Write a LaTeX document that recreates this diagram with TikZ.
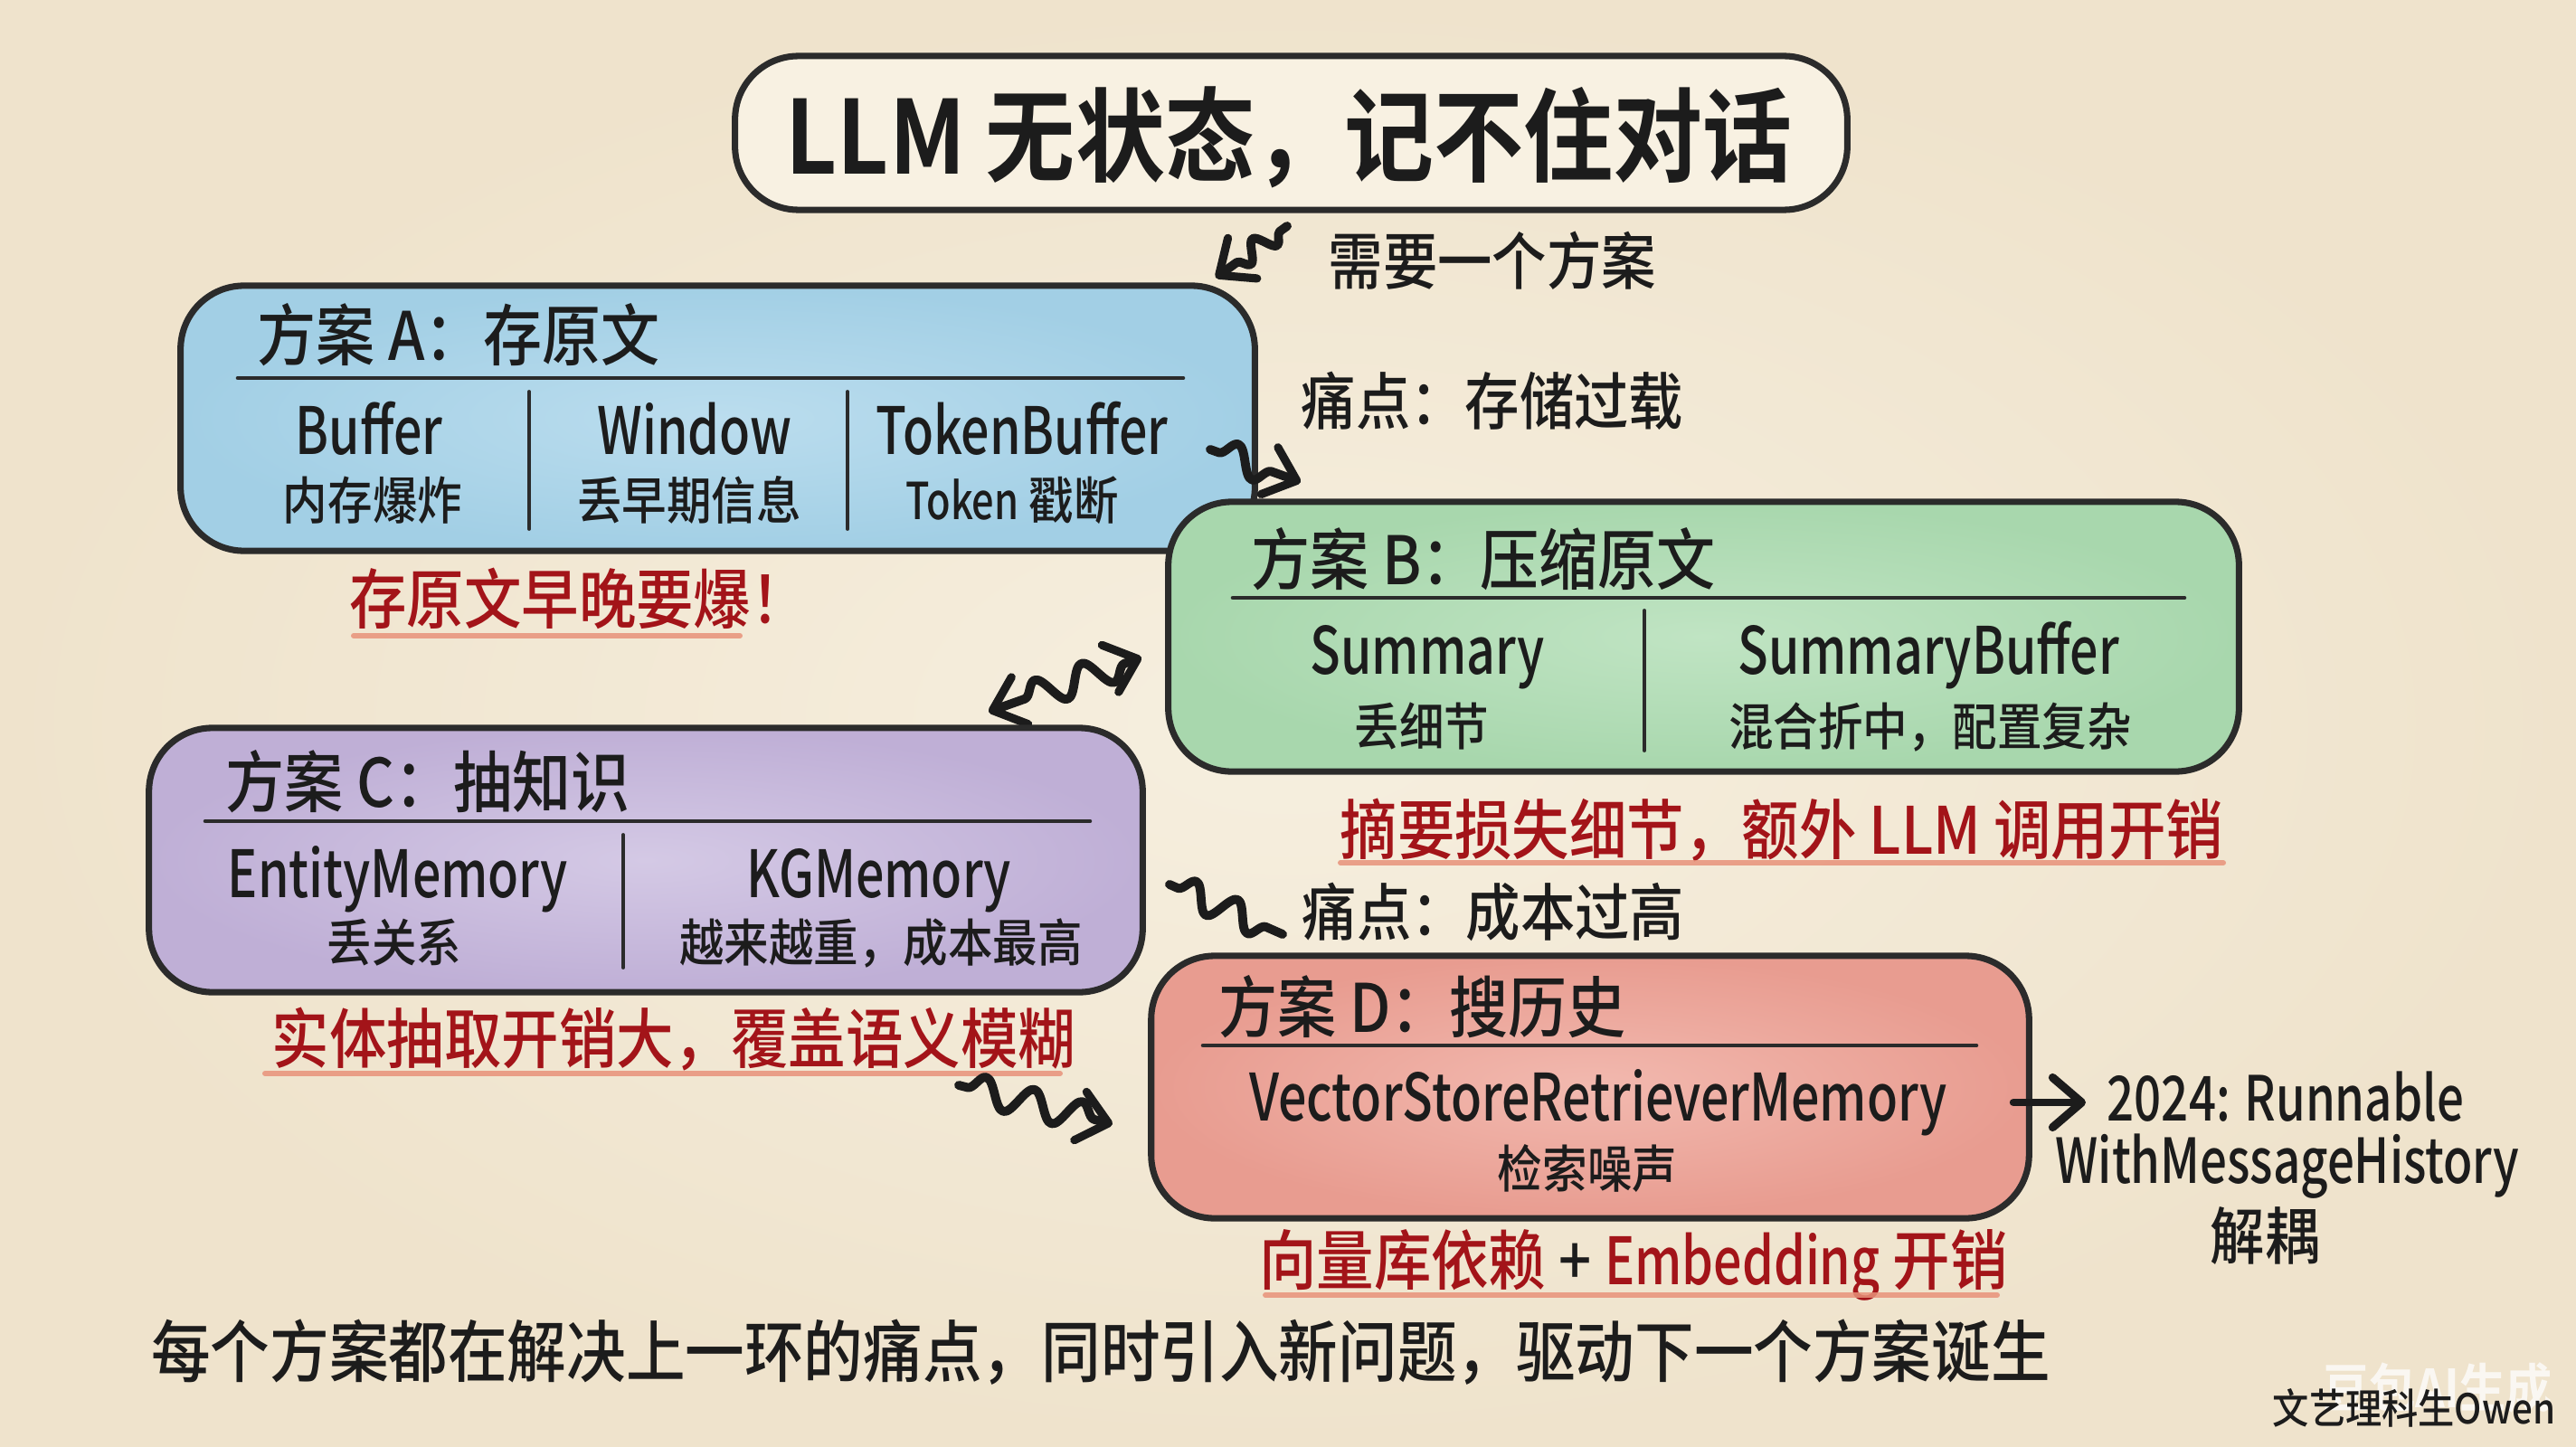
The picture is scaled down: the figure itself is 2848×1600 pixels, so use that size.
\documentclass[tikz,border=0pt]{standalone}
\usepackage{fontspec}
\setmainfont{Noto Sans CJK SC}[UprightFont=* Medium, BoldFont=* Bold, FakeStretch=0.88]
\newfontfamily\latinfont{Noto Sans CJK SC}[UprightFont=* Medium, BoldFont=* Bold, FakeStretch=0.77]
\usetikzlibrary{arrows.meta,decorations.pathmorphing,calc}
\definecolor{bglight}{HTML}{F6EFDF}
\definecolor{bgdark}{HTML}{EFE3CC}
\definecolor{ink}{HTML}{1C1C1C}
\definecolor{outline}{HTML}{2B2B2B}
\definecolor{titlefill}{HTML}{F8F1E2}
\definecolor{blueout}{HTML}{A2CFE5}
\definecolor{bluein}{HTML}{BBDDEE}
\definecolor{greenout}{HTML}{A8D7AD}
\definecolor{greenin}{HTML}{C0E4C3}
\definecolor{purpleout}{HTML}{BFAFD6}
\definecolor{purplein}{HTML}{D4C9E5}
\definecolor{redout}{HTML}{E89C90}
\definecolor{redin}{HTML}{F2B9AF}
\definecolor{notered}{HTML}{A31419}
\definecolor{ulc}{HTML}{E8927A}
\tikzset{
  txt/.style={inner sep=0pt, text=ink},
  boxbase/.style={draw=outline, line width=2pt, rounded corners=0.7cm, inner sep=0pt},
  titletxt/.style={txt, font=\fontsize{32}{38}\selectfont\bfseries, text height=28.2pt, text depth=3.8pt},
  headtxt/.style={txt, anchor=west, font=\fontsize{21}{25}\selectfont, text height=18.5pt, text depth=2.5pt},
  labtxt/.style={txt, font=\fontsize{20.5}{24}\selectfont\latinfont, text height=18pt, text depth=2.5pt},
  subtxt/.style={txt, font=\fontsize{16}{19}\selectfont, text height=14.1pt, text depth=1.9pt},
  notetxt/.style={txt, text=notered, font=\fontsize{20.5}{24}\selectfont, text height=18pt, text depth=2.5pt},
  sidetxt/.style={txt, font=\fontsize{19.5}{23}\selectfont, text height=17.2pt, text depth=2.3pt},
  sidelatin/.style={sidetxt, font=\fontsize{19.5}{23}\selectfont\latinfont},
  bottomtxt/.style={txt, font=\fontsize{21.2}{25}\selectfont, text height=18.7pt, text depth=2.5pt},
  rulestroke/.style={draw=outline, line width=1.3pt, line cap=round},
  divider/.style={draw=outline, line width=1.1pt, line cap=round},
  uline/.style={draw=ulc, line width=1.7pt, line cap=round, opacity=.85},
  barb/.tip={Straight Barb[length=3.2mm,width=5.5mm,line width=2.6pt,round]},
  squig/.style={draw=ink, line width=2.8pt, line cap=round, line join=round,
    decorate, decoration={snake, amplitude=1.4mm, segment length=4.5mm, pre length=1mm, post length=2mm}},
  arrowline/.style={draw=ink, line width=2.4pt, line cap=round},
}
\begin{document}
\begin{tikzpicture}[x=0.01cm, y=-0.01cm]
\useasboundingbox (0,0) rectangle (2848,1600);
\shade[inner color=bglight, outer color=bgdark] (0,0) rectangle (2848,1600);

% title
\node[boxbase, fill=titlefill, minimum width=12.29cm, minimum height=1.70cm] (titlebox) at (1427.5,147) {};
\node[titletxt] (titletext) at (1425,150) {LLM 无状态，记不住对话};

\coordinate (s1a) at (1423,250);
\coordinate (s1b) at (1344,307);
\draw[squig, decoration={amplitude=1.1mm, segment length=3.6mm}, -barb] (s1a) -- (s1b);
\node[sidetxt, anchor=west] (need) at (1468,288) {需要一个方案};

% box A
\node[boxbase, inner color=bluein, outer color=blueout, minimum width=11.87cm, minimum height=2.93cm] (boxA) at (793.5,462.5) {};
\node[headtxt] (headA) at (284,370) {方案 A：存原文};
\draw[rulestroke] (263,418) -- (1308,418);
\draw[divider] (585,433) -- (585,585);
\draw[divider] (937,433) -- (937,585);
\node[labtxt] (bufA) at (408,475) {Buffer};
\node[subtxt] (bufAs) at (412,553) {内存爆炸};
\node[labtxt] (winA) at (768,475) {Window};
\node[subtxt] (winAs) at (762,553) {丢早期信息};
\node[labtxt] (tokA) at (1130,475) {TokenBuffer};
\node[subtxt] (tokAs) at (1119,553) {{\latinfont Token} 戳断};
\node[notetxt] (noteA) at (640,662) {存原文早晚要爆！};
\draw[uline] (391,703) -- (818,703);

\node[sidetxt, anchor=west] (painA) at (1438,443) {痛点：存储过载};
\coordinate (sAa) at (1338,497);
\coordinate (sAb) at (1438,533);
\draw[squig, decoration={amplitude=1.6mm, segment length=5.5mm}, -barb] (sAa) -- (sAb);

% box B
\node[boxbase, inner color=greenin, outer color=greenout, minimum width=11.83cm, minimum height=2.98cm] (boxB) at (1883.5,704) {};
\node[headtxt] (headB) at (1383,618) {方案 B：压缩原文};
\draw[rulestroke] (1363,661) -- (2415,661);
\draw[divider] (1818,675) -- (1818,830);
\node[labtxt] (sumB) at (1578,718) {Summary};
\node[subtxt] (sumBs) at (1572,803) {丢细节};
\node[labtxt] (sbufB) at (2132,718) {SummaryBuffer};
\node[subtxt] (sbufBs) at (2134,803) {混合折中，配置复杂};
\node[notetxt] (noteB) at (1970,917) {摘要损失细节，额外 LLM 调用开销};
\draw[uline] (1482,954) -- (2458,954);

\coordinate (sBCa) at (1262,727);
\coordinate (sBCb) at (1093,787);
\draw[squig, decoration={amplitude=1.6mm, segment length=5.5mm, pre length=2mm}, barb-barb] (sBCa) -- (sBCb);

% box C
\node[boxbase, inner color=purplein, outer color=purpleout, minimum width=10.98cm, minimum height=2.92cm] (boxC) at (714,951) {};
\node[headtxt] (headC) at (249,864) {方案 C：抽知识};
\draw[rulestroke] (227,908) -- (1205,908);
\draw[divider] (689,923) -- (689,1070);
\node[labtxt] (entC) at (440,965) {EntityMemory};
\node[subtxt] (entCs) at (436,1042) {丢关系};
\node[labtxt] (kgC) at (972,965) {KGMemory};
\node[subtxt] (kgCs) at (974,1042) {越来越重，成本最高};
\node[notetxt] (noteC) at (745,1148) {实体抽取开销大，覆盖语义模糊};
\draw[uline] (293,1187) -- (1172,1187);

\coordinate (sCa) at (1293,978);
\coordinate (sCb) at (1418,1033);
\draw[squig, decoration={amplitude=1.5mm, segment length=5mm, post length=1mm}] (sCa) -- (sCb);
\node[sidetxt, anchor=west] (painC) at (1439,1008) {痛点：成本过高};

\coordinate (sCDa) at (1060,1200);
\coordinate (sCDb) at (1230,1243);
\draw[squig, decoration={amplitude=1.6mm, segment length=5.5mm}, -barb] (sCDa) -- (sCDb);

% box D
\node[boxbase, inner color=redin, outer color=redout, minimum width=9.70cm, minimum height=2.90cm] (boxD) at (1758,1202) {};
\node[headtxt] (headD) at (1347,1113) {方案 D：搜历史};
\draw[rulestroke] (1330,1156) -- (2185,1156);
\node[labtxt] (vecD) at (1767,1212) {VectorStoreRetrieverMemory};
\node[subtxt] (vecDs) at (1755,1292) {检索噪声};
\node[notetxt] (noteD) at (1806,1393) {向量库依赖 \textcolor{ink}{+} {\latinfont Embedding} 开销};
\draw[uline] (1399,1432) -- (2208,1432);

\coordinate (dArrA) at (2226,1219);
\coordinate (dArrB) at (2306,1219);
\draw[arrowline, -barb] (dArrA) -- (dArrB);
\node[sidelatin, anchor=west] (runA) at (2329,1213) {2024: Runnable};
\node[sidelatin] (runB) at (2529,1282) {WithMessageHistory};
\node[sidetxt] (runC) at (2504,1366) {解耦};

% bottom line
\node[bottomtxt] (summary) at (1217,1494) {每个方案都在解决上一环的痛点，同时引入新问题，驱动下一个方案诞生};

% watermark
\node[txt, text=white, opacity=.75, font=\fontsize{16.5}{20}\selectfont\bfseries, text height=14.5pt, text depth=2pt] (wm1) at (2695,1535) {豆包AI生成};
\node[txt, font=\fontsize{13}{16}\selectfont, text height=11.4pt, text depth=1.6pt] (wm2) at (2669,1557) {文艺理科生Owen};
\end{tikzpicture}
\end{document}
